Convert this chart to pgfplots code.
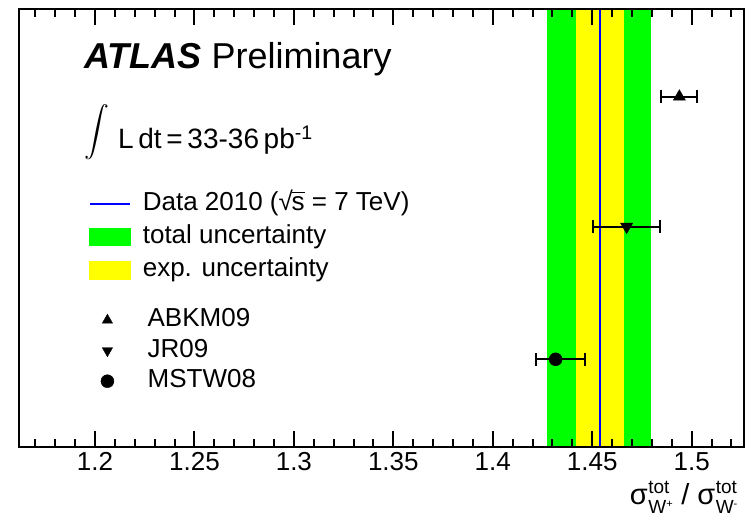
\documentclass[border=0pt]{standalone}
\usepackage{pgfplots}
\pgfplotsset{compat=1.18}
\usepackage{amsmath}
\usepackage{fontspec}
\setmainfont{Liberation Sans}
\definecolor{rootgreen}{RGB}{0,255,0}
\definecolor{rootyellow}{RGB}{255,255,0}
\definecolor{rootblue}{RGB}{0,0,255}
\pgfplotstableread{
x ep em y
1.4938 0.0090 0.0090 350
}\abkm
\pgfplotstableread{
x ep em y
1.4673 0.0169 0.0169 220
}\jr
\pgfplotstableread{
x ep em y
1.4316 0.0147 0.0099 87.4
}\mstw
\newcommand{\sigw}[1]{σ\kern0.5pt\makebox[25pt][l]{\rlap{\raisebox{11.5pt}{\fontsize{19}{19}\selectfont tot}}\raisebox{-9pt}{\fontsize{19}{19}\selectfont W\raisebox{6pt}{\fontsize{11}{11}\selectfont #1}}}}
\begin{document}
\begin{tikzpicture}
\useasboundingbox (0pt,0pt) rectangle (745pt,519pt);
\begin{axis}[
  at={(19pt,72.3pt)}, anchor=south west,
  scale only axis, width=725pt, height=437.7pt,
  xmin=1.1618, xmax=1.5263, ymin=0, ymax=437.7,
  axis on top,
  xtick={1.2,1.25,1.3,1.35,1.4,1.45,1.5},
  ytick=\empty,
  tick align=inside,
  major tick length=0pt,
  xtick style={draw=none},
  every axis/.append style={line width=1.8pt},
  /pgf/number format/assume math mode=true,
  xticklabel style={font=\fontsize{26}{26}\selectfont, inner sep=0pt, text height=19pt, yshift=-4pt},
  legend cell align=left,
  legend style={at={(axis description cs:0.0952,0.586)}, anchor=north west,
    draw=none, fill=none, inner sep=0pt, row sep=8.4pt,
    nodes={inner sep=0pt, text height=19pt, text depth=6pt, font=\fontsize{26}{26}\selectfont}},
]
\addplot[fill=rootgreen, draw=none, forget plot] coordinates {(1.4271,500) (1.4795,500)} \closedcycle;
\addplot[fill=rootyellow, draw=none, forget plot] coordinates {(1.4418,500) (1.4661,500)} \closedcycle;
\addplot[draw=rootblue, color=rootblue, line width=2.2pt, mark=none, forget plot] coordinates {(1.4539,-10) (1.4539,500)};
\addlegendimage{legend image code/.code={\draw[rootblue, line width=2pt] (0pt,0pt) -- (40pt,0pt); \path (0pt,-8.5pt) (52pt,8.5pt);}}
\addlegendentry{Data 2010 (√\kern-0.05em$\overline{\text{s}}$ = 7 TeV)}
\addlegendimage{legend image code/.code={\fill[rootgreen] (0pt,-8.5pt) rectangle (40pt,8.5pt); \path (52pt,0pt);}}
\addlegendentry{total uncertainty}
\addlegendimage{legend image code/.code={\fill[rootyellow] (0pt,-8.5pt) rectangle (40pt,8.5pt); \path (52pt,0pt);}}
\addlegendentry{exp. uncertainty}
\end{axis}
\begin{axis}[
  at={(19pt,72.3pt)}, anchor=south west,
  scale only axis, width=725pt, height=437.7pt,
  xmin=1.1618, xmax=1.5263, ymin=0, ymax=437.7,
  hide axis,
  legend cell align=left,
  legend style={at={(axis description cs:0.0952,0.318)}, anchor=north west,
    draw=none, fill=none, inner sep=0pt, row sep=5.5pt,
    nodes={inner sep=0pt, text height=19pt, text depth=6pt, font=\fontsize{26}{26}\selectfont}},
]
% tick marks (minor every 0.01, major every 0.05), drawn inward from bottom and top frame
\pgfplotsinvokeforeach{1.17,1.18,1.19,1.21,1.22,1.23,1.24,1.26,1.27,1.28,1.29,1.31,1.32,1.33,1.34,1.36,1.37,1.38,1.39,1.41,1.42,1.43,1.44,1.46,1.47,1.48,1.49,1.51,1.52}{
  \addplot[black, line width=2pt, mark=none, forget plot] coordinates {(#1,0) (#1,8)};
  \addplot[black, line width=2pt, mark=none, forget plot] coordinates {(#1,437.7) (#1,429.7)};
}
\pgfplotsinvokeforeach{1.2,1.25,1.3,1.35,1.4,1.45,1.5}{
  \addplot[black, line width=2pt, mark=none, forget plot] coordinates {(#1,0) (#1,16)};
  \addplot[black, line width=2pt, mark=none, forget plot] coordinates {(#1,437.7) (#1,421.7)};
}
\addplot[only marks, black, mark=triangle*, mark size=7pt, forget plot,
  error bars/.cd, x dir=both, x explicit,
  error bar style={line width=2pt, black},
  error mark options={rotate=90, mark size=6.5pt, line width=2pt, black}]
  table[x=x, y=y, x error plus=ep, x error minus=em] {\abkm};
\addplot[only marks, black, mark=triangle*, mark options={rotate=180}, mark size=7pt, forget plot,
  error bars/.cd, x dir=both, x explicit,
  error bar style={line width=2pt, black},
  error mark options={rotate=90, mark size=6.5pt, line width=2pt, black}]
  table[x=x, y=y, x error plus=ep, x error minus=em] {\jr};
\addplot[only marks, black, mark=*, mark size=6.5pt, forget plot,
  error bars/.cd, x dir=both, x explicit,
  error bar style={line width=2pt, black},
  error mark options={rotate=90, mark size=6.5pt, line width=2pt, black}]
  table[x=x, y=y, x error plus=ep, x error minus=em] {\mstw};
\addlegendimage{legend image code/.code={\fill[black] (19pt,0pt) ++(90:6pt) -- ++(-120:10.4pt) -- ++(0:10.4pt) -- cycle; \path (0pt,-8.5pt) (59pt,8.5pt);}}
\addlegendentry{ABKM09}
\addlegendimage{legend image code/.code={\fill[black] (19pt,0pt) ++(-90:6pt) -- ++(120:10.4pt) -- ++(0:10.4pt) -- cycle; \path (0pt,-8.5pt) (59pt,8.5pt);}}
\addlegendentry{JR09}
\addlegendimage{legend image code/.code={\fill[black] (19pt,0pt) circle (6.5pt); \path (0pt,-8.5pt) (59pt,8.5pt);}}
\addlegendentry{MSTW08}
\end{axis}
\node[anchor=base west, inner sep=0pt, font=\fontsize{36}{36}\selectfont] at (84pt,450.5pt) {\textbf{\textit{ATLAS}} Preliminary};
\node[anchor=center, inner sep=0pt, font=\fontsize{25}{25}\selectfont] at (97pt,386.5pt) {$\displaystyle\int$};
\node[anchor=base west, inner sep=0pt, font=\fontsize{28}{28}\selectfont] at (118pt,370.7pt) {L\,dt\,=\,33-36\,pb\textsuperscript{-1}};
\node[anchor=base east, inner sep=0pt, font=\fontsize{29}{29}\selectfont] at (741pt,14pt) {\sigw{+}\kern8pt/\kern8pt\sigw{-}};
\end{tikzpicture}
\end{document}
